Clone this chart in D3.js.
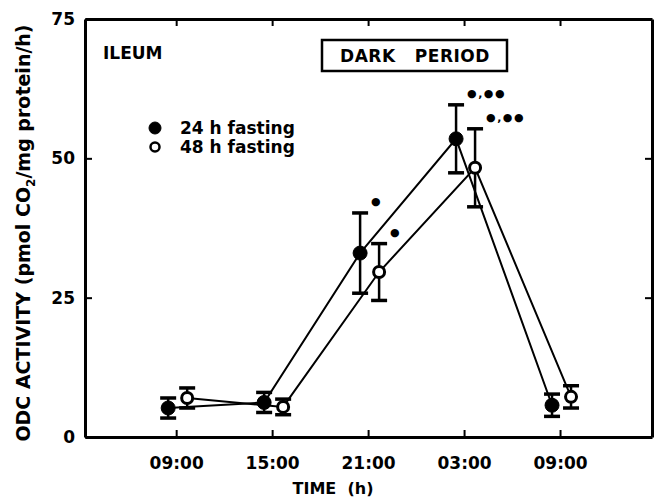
<!DOCTYPE html>
<html>
<head>
<meta charset="utf-8">
<script src="https://cdn.jsdelivr.net/npm/d3@7"></script>
<style>
  body { margin: 0; background: #fff; }
  svg { font-family: "DejaVu Sans", sans-serif; font-weight: bold; }
</style>
</head>
<body>
<svg id="chart" width="658" height="499"></svg>
<script>
// hours after the first 09:00 sample
var hours = [0, 6, 12, 18, 24];
var tickLabels = ["09:00", "15:00", "21:00", "03:00", "09:00"];
var yTicks = [0, 25, 50, 75];

var fast24 = [5.2, 6.2, 33.0, 53.5, 5.7];
var err24 = [1.8, 1.8, 7.2, 6.1, 2.0];
var sig24 = ["", "", "*", "*,**", ""];

var fast48 = [7.0, 5.4, 29.6, 48.3, 7.2];
var err48 = [1.8, 1.4, 5.1, 7.0, 2.0];
var sig48 = ["", "", "*", "*,**", ""];

var svg = d3.select("#chart"),
    margin = {top: 19, right: 6, bottom: 62, left: 85},
    width = 658 - margin.left - margin.right,
    height = 499 - margin.top - margin.bottom,
    g = svg.append("g").attr("transform", "translate(" + margin.left + "," + margin.top + ")");

var x = d3.scaleLinear().domain([-5.7, 29.75]).range([0, width]);
var y = d3.scaleLinear().domain([0, 75]).range([height, 0]);

// frame with inward ticks
g.append("g").attr("class", "axis")
    .attr("transform", "translate(0," + height + ")")
    .call(d3.axisBottom(x).tickValues(hours).tickSizeInner(-7).tickSizeOuter(0).tickPadding(20)
      .tickFormat(function(d, i) { return tickLabels[i]; }));
g.append("g").attr("class", "axis")
    .call(d3.axisTop(x).tickValues(hours).tickSizeInner(-7).tickSizeOuter(0).tickFormat(""));
g.append("g").attr("class", "axis")
    .call(d3.axisLeft(y).tickValues(yTicks).tickSizeInner(-7).tickSizeOuter(0).tickPadding(10));
g.append("g").attr("class", "axis")
    .attr("transform", "translate(" + width + ",0)")
    .call(d3.axisRight(y).tickValues(yTicks).tickSizeInner(-7).tickSizeOuter(0).tickFormat(""));

g.selectAll(".axis path").attr("stroke", "#000").attr("stroke-width", 3);
g.selectAll(".axis line").attr("stroke", "#000").attr("stroke-width", 2);
g.selectAll(".axis text").attr("fill", "#000")
    .attr("font-family", "DejaVu Sans").attr("font-weight", "bold").attr("font-size", 17);

function drawSeries(vals, errs, sigs, dx, open) {
  var pts = hours.map(function(h, i) { return {h: h, v: vals[i], e: errs[i], s: sigs[i]}; });
  var line = d3.line()
      .x(function(d) { return x(d.h) + dx; })
      .y(function(d) { return y(d.v); });
  g.append("path").datum(pts)
      .attr("fill", "none").attr("stroke", "#000").attr("stroke-width", 2)
      .attr("d", line);

  var eb = g.append("g").selectAll("g").data(pts).enter().append("g")
      .attr("stroke", "#000").attr("stroke-width", 2.5);
  eb.append("line")
      .attr("x1", function(d) { return x(d.h) + dx; })
      .attr("x2", function(d) { return x(d.h) + dx; })
      .attr("y1", function(d) { return y(d.v - d.e); })
      .attr("y2", function(d) { return y(d.v + d.e); });
  eb.append("line")
      .attr("x1", function(d) { return x(d.h) + dx - 8; })
      .attr("x2", function(d) { return x(d.h) + dx + 8; })
      .attr("y1", function(d) { return y(d.v + d.e); })
      .attr("y2", function(d) { return y(d.v + d.e); })
      .attr("stroke-width", 3.5);
  eb.append("line")
      .attr("x1", function(d) { return x(d.h) + dx - 8; })
      .attr("x2", function(d) { return x(d.h) + dx + 8; })
      .attr("y1", function(d) { return y(d.v - d.e); })
      .attr("y2", function(d) { return y(d.v - d.e); })
      .attr("stroke-width", 3.5);

  g.append("g").selectAll("circle").data(pts).enter().append("circle")
      .attr("cx", function(d) { return x(d.h) + dx; })
      .attr("cy", function(d) { return y(d.v); })
      .attr("r", open ? 5.5 : 7)
      .attr("fill", open ? "#fff" : "#000")
      .attr("stroke", "#000")
      .attr("stroke-width", open ? 3 : 1);

  // significance marks, drawn as big dots like the original
  g.append("g").selectAll("text").data(pts.filter(function(d) { return d.s; })).enter().append("text")
      .attr("x", function(d) { return x(d.h) + dx + 11; })
      .attr("y", function(d) { return y(d.v + d.e) - 8; })
      .attr("font-size", 11)
      .attr("letter-spacing", 1.5)
      .text(function(d) { return d.s.replace(/\*/g, "\u25CF"); });
}

drawSeries(fast24, err24, sig24, -8, false);
drawSeries(fast48, err48, sig48, 11, true);

// labels
g.append("text").attr("x", 18).attr("y", 40).attr("font-size", 17).text("ILEUM");

g.append("rect").attr("x", 237).attr("y", 21).attr("width", 185).attr("height", 31)
    .attr("fill", "none").attr("stroke", "#000").attr("stroke-width", 2.5);
g.append("text").attr("x", 330).attr("y", 43).attr("text-anchor", "middle")
    .attr("font-size", 17).attr("letter-spacing", 0.5)
    .attr("xml:space", "preserve").text("DARK   PERIOD");

var legend = g.append("g").selectAll("g")
    .data([{label: "24 h fasting", open: false}, {label: "48 h fasting", open: true}])
    .enter().append("g")
    .attr("transform", function(d, i) { return "translate(70," + (109 + i * 19) + ")"; });
legend.append("circle").attr("r", function(d) { return d.open ? 4.5 : 6; })
    .attr("fill", function(d) { return d.open ? "#fff" : "#000"; })
    .attr("stroke", "#000").attr("stroke-width", function(d) { return d.open ? 2.5 : 1; });
legend.append("text").attr("x", 25).attr("dy", "0.36em").attr("font-size", 17)
    .text(function(d) { return d.label; });

svg.append("text").attr("x", 333).attr("y", 494).attr("text-anchor", "middle")
    .attr("font-size", 16).attr("xml:space", "preserve").text("TIME  (h)");

var yl = svg.append("text").attr("transform", "translate(30,233) rotate(-90)")
    .attr("text-anchor", "middle").attr("font-size", 19);
yl.append("tspan").text("ODC ACTIVITY  (pmol CO");
yl.append("tspan").attr("font-size", 12).attr("dy", 5).text("2");
yl.append("tspan").attr("dy", -5).text("/mg protein/h)");
</script>
</body>
</html>
